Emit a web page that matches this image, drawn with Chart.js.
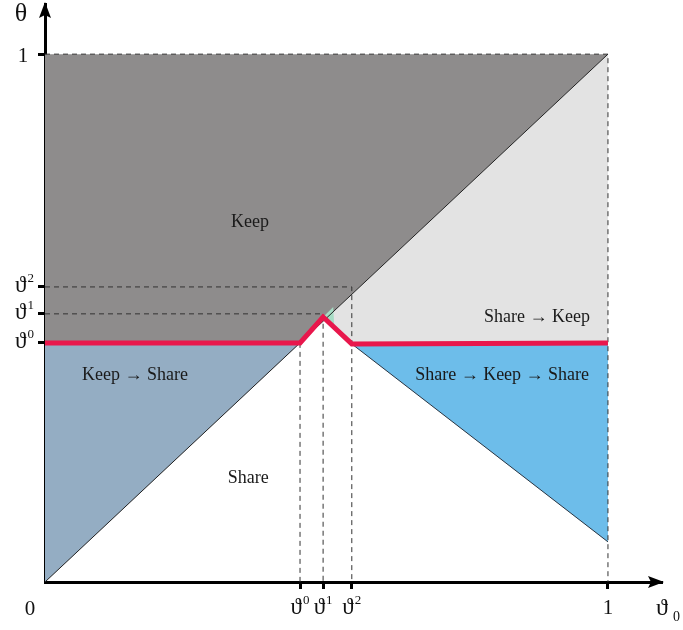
<!DOCTYPE html>
<html>
<head>
<meta charset="utf-8">
<script src="https://cdn.jsdelivr.net/npm/chart.js@4.4.1/dist/chart.umd.min.js"></script>
<style>
  body { margin: 0; background: #fff; }
  #wrap { width: 683px; height: 630px; position: relative; }
</style>
</head>
<body>
<div id="wrap"><canvas id="regionChart"></canvas></div>
<script>
// thresholds ϑ0, ϑ1, ϑ2 as they sit on each axis
var thetaX = [0.453, 0.494, 0.545];
var thetaY = [0.453, 0.508, 0.559];
var thetaSup = ['0', '1', '2'];

// switching curve (red)
var switchX = [0, 0.453, 0.494, 0.545, 1];
var switchY = [0.453, 0.453, 0.502, 0.451, 0.453];

// lower edge of the right-hand blue region at ϑ0 = 1
var blueEdgeY = 0.076;

// region names and where they are written
var regionNames = ['Keep', 'Keep \u2192 Share', 'Share', 'Share \u2192 Keep', 'Share \u2192 Keep \u2192 Share'];
var regionX = [0.364, 0.16, 0.361, 0.874, 0.812];
var regionY = [0.682, 0.392, 0.197, 0.502, 0.392];

var serif = "'Liberation Serif', 'DejaVu Serif', serif";

function pt(x, y) { return { x: x, y: y }; }
function curvePts(from, to) {
    var out = [];
    for (var i = from; i <= to; i++) out.push(pt(switchX[i], switchY[i]));
    return out;
}

// filled polygons
function area(points, colour, order) {
    return {
        data: points,
        showLine: true,
        borderWidth: 0,
        pointRadius: 0,
        backgroundColor: colour,
        fill: 'shape',
        order: order
    };
}
function path(points, colour, width, dash, order) {
    return {
        data: points,
        showLine: true,
        borderColor: colour,
        borderWidth: width,
        borderDash: dash,
        pointRadius: 0,
        fill: false,
        order: order
    };
}

var darkArea = area([pt(0, switchY[0]), pt(0, 1), pt(1, 1), pt(thetaX[0], thetaX[0])], '#8e8c8c', 20);
var lightArea = area([pt(1, 1), pt(switchX[2], switchX[2])].concat(curvePts(2, 4)), '#e3e3e3', 19);
var leftBlue = area([pt(0, 0), pt(0, switchY[0]), pt(switchX[1], switchY[1])], '#94adc3', 18);
var rightBlue = area(curvePts(3, 4).concat([pt(1, blueEdgeY)]), '#6dbdea', 17);
var greenBit = area([pt(switchX[2], switchY[2]), pt(0.512, 0.521), pt(0.514, 0.48)], '#a6dcc4', 16);

var dashes = [5, 4];
var datasets = [
    path(curvePts(0, 4), '#e8174c', 5, [], 0),
    path([pt(switchX[3], switchY[3]), pt(1, blueEdgeY)], '#2a3440', 1, [], 5),
    path([pt(0, 0), pt(1, 1)], '#222', 1, [], 6),
    path([pt(0, 1), pt(1, 1), pt(1, 0)], '#333', 1, dashes, 7),
    path([pt(0, thetaY[2]), pt(thetaX[2], thetaY[2]), pt(thetaX[2], 0)], '#333', 1, dashes, 8),
    path([pt(0, thetaY[1]), pt(thetaX[1], thetaY[1]), pt(thetaX[1], 0)], '#333', 1, dashes, 9),
    path([pt(thetaX[0], thetaY[0]), pt(thetaX[0], 0)], '#333', 1, dashes, 10),
    greenBit, rightBlue, leftBlue, lightArea, darkArea
];

// ϑ with a raised index; align is 'center' or 'right'
function drawTheta(ctx, sup, x, y, align) {
    ctx.font = '23px ' + serif;
    var w1 = ctx.measureText('\u03D1').width;
    ctx.font = '13px ' + serif;
    var w2 = ctx.measureText(sup).width;
    var left = align === 'right' ? x - w1 - w2 - 1 : x - (w1 + w2 + 1) / 2;
    ctx.textAlign = 'left';
    ctx.textBaseline = 'middle';
    ctx.font = '23px ' + serif;
    ctx.fillText('\u03D1', left, y);
    ctx.font = '13px ' + serif;
    ctx.fillText(sup, left + w1 + 1, y - 7);
}

// arrows, tick texts, origin, axis names and region text
var decorations = {
    id: 'decorations',
    afterDatasetsDraw: function (chart) {
        var ctx = chart.ctx, xs = chart.scales.x, ys = chart.scales.y;
        ctx.save();
        ctx.fillStyle = '#1a1a1a';
        ctx.font = '18px ' + serif;
        ctx.textAlign = 'center';
        ctx.textBaseline = 'middle';
        for (var i = 0; i < regionNames.length; i++) {
            ctx.fillText(regionNames[i], xs.getPixelForValue(regionX[i]), ys.getPixelForValue(regionY[i]));
        }
        ctx.restore();
    },
    afterDraw: function (chart) {
        var ctx = chart.ctx, a = chart.chartArea, xs = chart.scales.x, ys = chart.scales.y;
        ctx.save();
        ctx.fillStyle = '#000';
        // vertical arrow
        ctx.beginPath();
        ctx.moveTo(a.left, a.top - 2);
        ctx.lineTo(a.left + 6, a.top + 14);
        ctx.lineTo(a.left, a.top + 11);
        ctx.lineTo(a.left - 6, a.top + 14);
        ctx.closePath();
        ctx.fill();
        // horizontal arrow
        ctx.beginPath();
        ctx.moveTo(a.right + 2, a.bottom);
        ctx.lineTo(a.right - 14, a.bottom - 6);
        ctx.lineTo(a.right - 11, a.bottom);
        ctx.lineTo(a.right - 14, a.bottom + 6);
        ctx.closePath();
        ctx.fill();

        ctx.fillStyle = '#111';
        // tick texts
        for (var i = 0; i < thetaX.length; i++) {
            drawTheta(ctx, thetaSup[i], xs.getPixelForValue(thetaX[i]), a.bottom + 26, 'center');
            drawTheta(ctx, thetaSup[i], a.left - 11, ys.getPixelForValue(thetaY[i]) - 1, 'right');
        }
        ctx.textAlign = 'center';
        ctx.textBaseline = 'middle';
        ctx.font = '21px ' + serif;
        ctx.fillText('1', xs.getPixelForValue(1), a.bottom + 26);
        ctx.fillText('1', 23, ys.getPixelForValue(1) + 2);
        ctx.fillText('0', a.left - 15, a.bottom + 27);
        ctx.font = '26px ' + serif;
        ctx.fillText('\u03B8', 21, 14);
        ctx.textAlign = 'left';
        ctx.font = '24px ' + serif;
        ctx.fillText('\u03D1', a.right - 6, a.bottom + 27);
        ctx.font = '14px ' + serif;
        ctx.fillText('0', a.right + 11, a.bottom + 35);
        ctx.restore();
    }
};

var xTicks = thetaX.concat([1]);
var yTicks = thetaY.concat([1]);

new Chart(document.getElementById('regionChart').getContext('2d'), {
    type: 'scatter',
    data: { datasets: datasets },
    options: {
        responsive: true,
        maintainAspectRatio: false,
        animation: false,
        layout: { padding: { top: 4, right: 21, left: 0, bottom: 0 } },
        plugins: {
            legend: { display: false },
            tooltip: { enabled: false }
        },
        scales: {
            x: {
                type: 'linear',
                min: 0,
                max: 1.096,
                afterFit: function (scale) {
                    scale.height = 48;
                    scale.paddingLeft = 0;
                    scale.paddingRight = 0;
                },
                afterBuildTicks: function (scale) {
                    scale.ticks = xTicks.map(function (v) { return { value: v }; });
                },
                ticks: {
                    autoSkip: false,
                    maxRotation: 0,
                    callback: function () { return ''; }
                },
                grid: { drawOnChartArea: false, tickLength: 7, tickWidth: 3, tickColor: '#000' },
                border: { display: true, color: '#000', width: 3 }
            },
            y: {
                type: 'linear',
                min: 0,
                max: 1.095,
                afterFit: function (scale) {
                    scale.width = 45;
                    scale.paddingTop = 0;
                    scale.paddingBottom = 0;
                },
                afterBuildTicks: function (scale) {
                    scale.ticks = yTicks.map(function (v) { return { value: v }; });
                },
                ticks: {
                    autoSkip: false,
                    callback: function () { return ''; }
                },
                grid: { drawOnChartArea: false, tickLength: 7, tickWidth: 3, tickColor: '#000' },
                border: { display: true, color: '#000', width: 3 }
            }
        }
    },
    plugins: [decorations]
});
</script>
</body>
</html>
